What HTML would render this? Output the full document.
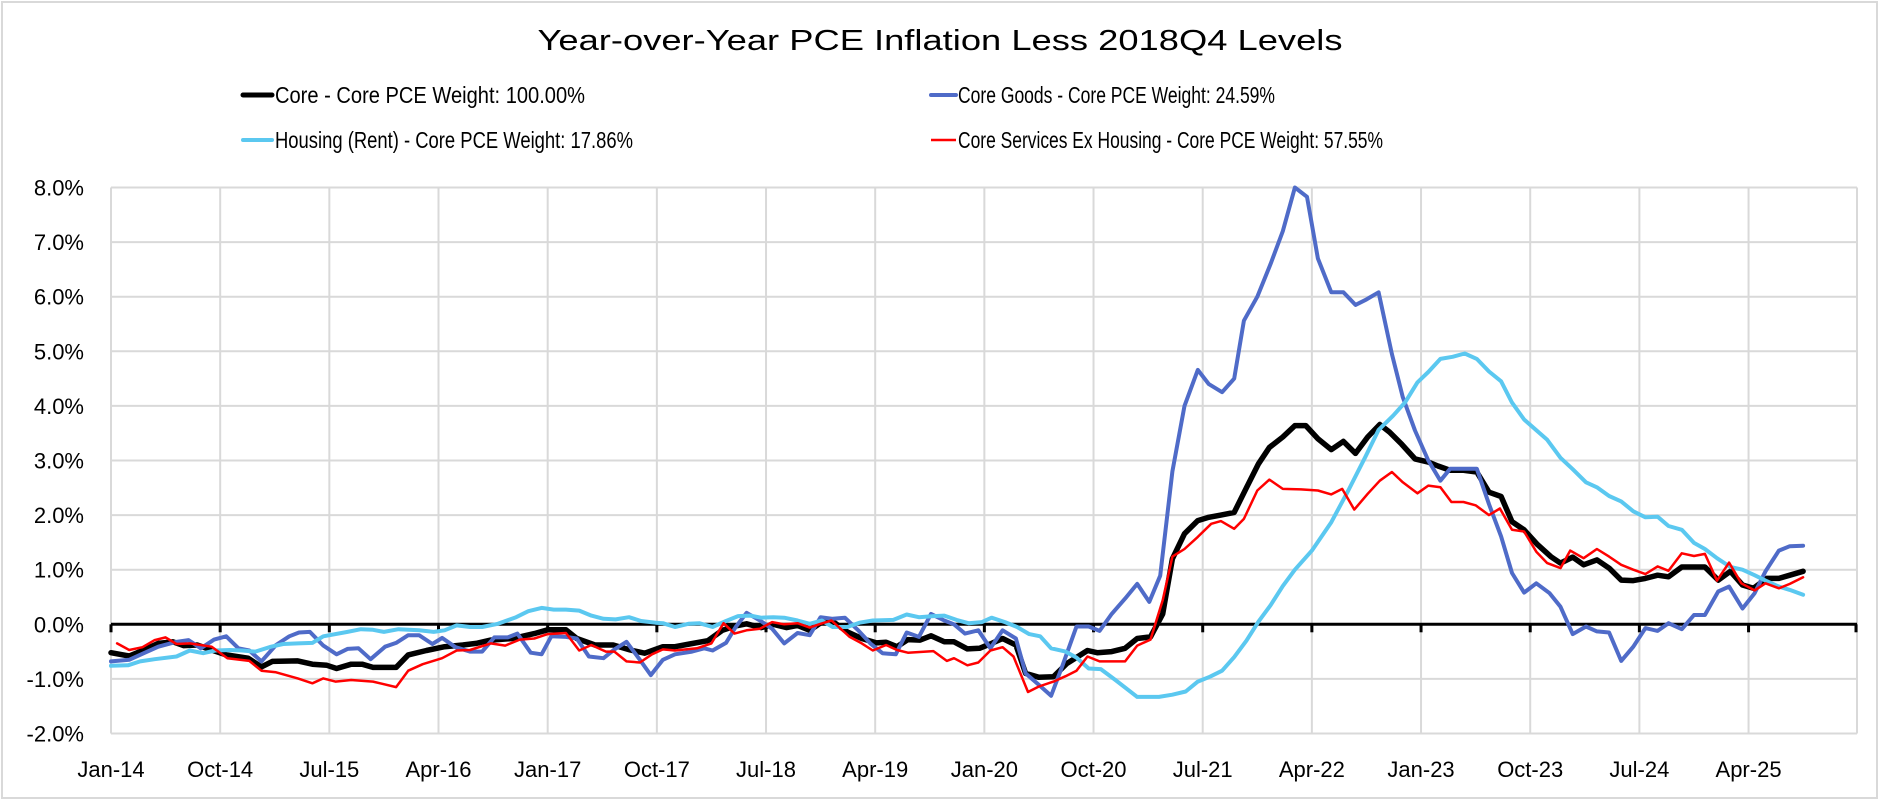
<!DOCTYPE html>
<html><head><meta charset="utf-8"><style>
html,body{margin:0;padding:0;background:#fff;}
svg{display:block;font-family:"Liberation Sans",sans-serif;}
</style></head><body>
<svg id="c" width="1880" height="800" xmlns="http://www.w3.org/2000/svg">
<rect x="2" y="2" width="1875" height="796" fill="#fff" stroke="#d9d9d9" stroke-width="2"/>
<text x="940" y="50" text-anchor="middle" font-size="29" fill="#000" textLength="805" lengthAdjust="spacingAndGlyphs">Year-over-Year PCE Inflation Less 2018Q4 Levels</text>
<line x1="243" y1="95" x2="272" y2="95" stroke="#000" stroke-width="5" stroke-linecap="round"/>
<text x="275" y="103" font-size="23" textLength="310" lengthAdjust="spacingAndGlyphs">Core - Core PCE Weight: 100.00%</text>
<line x1="243" y1="140" x2="272" y2="140" stroke="#5B9BD5" stroke-width="4" stroke-linecap="round" id="lg3"/>
<text x="275" y="148" font-size="23" textLength="358" lengthAdjust="spacingAndGlyphs">Housing (Rent) - Core PCE Weight: 17.86%</text>
<line x1="931" y1="95" x2="956" y2="95" stroke="#4F6BC8" stroke-width="4" stroke-linecap="round"/>
<text x="958" y="103" font-size="23" textLength="317" lengthAdjust="spacingAndGlyphs">Core Goods - Core PCE Weight: 24.59%</text>
<line x1="931" y1="140" x2="956" y2="140" stroke="#FF0000" stroke-width="2.5"/>
<text x="958" y="148" font-size="23" textLength="425" lengthAdjust="spacingAndGlyphs">Core Services Ex Housing - Core PCE Weight: 57.55%</text>
<g id="grid"></g>
<g id="series"></g>
<g id="labels" font-size="22" fill="#000"></g>
</svg>
<script>
var NS="http://www.w3.org/2000/svg";
function X(m){return 111+m*12.13;}
function Y(v){return 624.3-v*54.6;}
function el(tag,attrs,parent,txt){var e=document.createElementNS(NS,tag);for(var k in attrs)e.setAttribute(k,attrs[k]);if(txt)e.textContent=txt;parent.appendChild(e);return e;}
document.getElementById("lg3").setAttribute("stroke","#5BC8F0");
var g=document.getElementById("grid"),L=document.getElementById("labels");
for(var v=-2;v<=8;v++){el("line",{x1:111,x2:1857,y1:Y(v),y2:Y(v),stroke:"#d9d9d9","stroke-width":2},g);
 el("text",{x:84,y:Y(v)+8,"text-anchor":"end"},L,v.toFixed(1)+"%");}
var labs=["Jan-14","Oct-14","Jul-15","Apr-16","Jan-17","Oct-17","Jul-18","Apr-19","Jan-20","Oct-20","Jul-21","Apr-22","Jan-23","Oct-23","Jul-24","Apr-25"];
for(var i=0;i<=16;i++){var x=111+i*9*12.13; if(i==16)x=1857;
 el("line",{x1:x,x2:x,y1:Y(8),y2:Y(-2),stroke:"#d9d9d9","stroke-width":2},g);
 if(i<16)el("text",{x:x,y:777,"text-anchor":"middle"},L,labs[i]);}
el("line",{x1:111,x2:1857,y1:Y(0),y2:Y(0),stroke:"#000","stroke-width":3},g);
for(var i=0;i<=16;i++){var x=111+i*9*12.13;if(i==16)x=1856;el("line",{x1:x,x2:x,y1:Y(0),y2:Y(0)+8,stroke:"#000","stroke-width":3},g);}
var black=[[0,-.52],[1.5,-.58],[2.7,-.47],[3.9,-.35],[5.1,-.32],[6,-.39],[7.1,-.38],[8.3,-.47],[9.5,-.56],[11.3,-.62],[12.4,-.78],[13.3,-.68],[15.4,-.67],[16.6,-.73],[17.8,-.75],[18.6,-.81],[19.8,-.73],[20.7,-.73],[21.6,-.79],[23.5,-.79],[24.5,-.56],[26,-.48],[27.5,-.41],[29,-.38],[30.1,-.35],[31.3,-.29],[33.1,-.26],[34.9,-.17],[36,-.1],[37.5,-.1],[38.4,-.26],[39.9,-.38],[41.4,-.38],[42.8,-.47],[44,-.53],[45.5,-.41],[46.5,-.41],[47.7,-.36],[49.2,-.3],[50.4,-.11],[51.5,-.03],[52.4,.01],[53.6,-.06],[54.6,0],[55.7,-.06],[56.6,-.02],[57.6,-.11],[58.6,.04],[59.7,.02],[60.7,-.14],[61.9,-.26],[63.1,-.34],[63.9,-.33],[64.8,-.41],[65.7,-.28],[66.7,-.29],[67.6,-.21],[68.7,-.32],[69.5,-.32],[70.6,-.45],[71.6,-.44],[72.6,-.35],[73.5,-.26],[74.6,-.38],[75.4,-.9],[76.5,-.97],[77.7,-.96],[78.8,-.72],[80.5,-.48],[81.3,-.52],[82.5,-.5],[83.6,-.44],[84.6,-.26],[85.7,-.23],[86.7,.19],[87.5,1.2],[88.5,1.66],[89.6,1.9],[90.5,1.96],[91.5,2],[92.6,2.05],[93.6,2.5],[94.6,2.94],[95.5,3.24],[96.6,3.43],[97.6,3.64],[98.5,3.64],[99.5,3.4],[100.6,3.2],[101.6,3.35],[102.6,3.13],[103.6,3.43],[104.6,3.66],[105.4,3.52],[106.4,3.3],[107.5,3.03],[108.6,2.97],[109.4,2.9],[110.4,2.82],[111.5,2.82],[112.6,2.79],[113.6,2.42],[114.6,2.34],[115.5,1.88],[116.5,1.73],[117.6,1.46],[118.7,1.24],[119.5,1.12],[120.5,1.23],[121.4,1.09],[122.5,1.18],[123.5,1.03],[124.5,.81],[125.5,.8],[126.5,.84],[127.5,.9],[128.4,.87],[129.5,1.05],[130.5,1.05],[131.4,1.05],[132.5,.81],[133.5,.97],[134.5,.72],[135.4,.66],[136.5,.84],[137.5,.84],[138.4,.9],[139.5,.97]];
var red=[[0.5,-.35],[1.5,-.47],[2.6,-.42],[3.6,-.29],[4.5,-.24],[5.4,-.36],[6.5,-.35],[8.3,-.41],[9.6,-.62],[11.4,-.67],[12.4,-.85],[13.6,-.88],[15.4,-.99],[16.6,-1.08],[17.5,-.99],[18.5,-1.05],[19.8,-1.02],[21.6,-1.05],[23.5,-1.15],[24.5,-.85],[25.7,-.73],[27.3,-.62],[28.5,-.48],[29.6,-.47],[31.3,-.35],[32.5,-.39],[33.7,-.28],[34.9,-.26],[36,-.18],[37.5,-.16],[38.6,-.48],[39.6,-.38],[40.8,-.5],[41.5,-.5],[42.5,-.68],[43.6,-.7],[44.6,-.55],[45.5,-.46],[46.5,-.48],[48.3,-.44],[49.5,-.35],[50.5,.02],[51.4,-.17],[52.4,-.11],[53.5,-.08],[54.5,.04],[55.5,0],[56.6,.02],[57.6,-.06],[58.5,.01],[59.4,.07],[60.9,-.23],[61.9,-.35],[62.8,-.48],[63.9,-.38],[64.8,-.47],[65.7,-.52],[67.8,-.49],[68.9,-.67],[69.5,-.62],[70.6,-.75],[71.5,-.7],[72.5,-.48],[73.5,-.42],[74.4,-.59],[75.6,-1.24],[76.5,-1.14],[77.7,-1.05],[78.7,-.95],[79.6,-.85],[80.5,-.59],[81.5,-.68],[83.6,-.68],[84.6,-.39],[85.7,-.28],[86.7,.44],[87.5,1.24],[88.5,1.38],[89.6,1.6],[90.7,1.84],[91.5,1.89],[92.6,1.75],[93.4,1.93],[94.5,2.45],[95.5,2.65],[96.6,2.48],[98.1,2.47],[99.5,2.45],[100.6,2.38],[101.5,2.48],[102.5,2.1],[103.6,2.39],[104.6,2.63],[105.6,2.79],[106.5,2.6],[107.7,2.4],[108.6,2.54],[109.6,2.51],[110.5,2.24],[111.5,2.24],[112.5,2.18],[113.6,2],[114.5,2.12],[115.5,1.73],[116.5,1.7],[117.5,1.33],[118.4,1.12],[119.5,1.03],[120.3,1.35],[121.4,1.21],[122.5,1.38],[123.5,1.24],[124.5,1.09],[125.5,1],[126.5,.92],[127.5,1.06],[128.4,.98],[129.5,1.3],[130.5,1.25],[131.4,1.29],[132.4,.8],[133.4,1.13],[134.4,.75],[135.5,.62],[136.4,.75],[137.5,.66],[138.4,.74],[139.5,.86]];
var blue=[[0,-.68],[1.5,-.65],[2.7,-.53],[3.9,-.41],[5.4,-.32],[6.4,-.29],[7.4,-.44],[8.5,-.28],[9.5,-.22],[10.5,-.44],[11.4,-.48],[12.4,-.68],[13.6,-.38],[14.7,-.22],[15.5,-.15],[16.4,-.14],[17.5,-.39],[18.6,-.55],[19.5,-.45],[20.4,-.44],[21.4,-.64],[22.6,-.41],[23.5,-.34],[24.5,-.2],[25.4,-.2],[26.5,-.36],[27.3,-.25],[28.4,-.42],[29.6,-.5],[30.6,-.5],[31.6,-.24],[32.7,-.24],[33.5,-.17],[34.6,-.52],[35.5,-.55],[36.3,-.22],[37.5,-.23],[38.4,-.26],[39.4,-.59],[40.6,-.62],[41.5,-.46],[42.5,-.32],[43.6,-.65],[44.5,-.93],[45.5,-.65],[46.5,-.55],[47.9,-.5],[48.9,-.44],[49.6,-.48],[50.7,-.34],[51.5,-.05],[52.4,.21],[53.5,.07],[54.5,-.08],[55.5,-.35],[56.6,-.16],[57.6,-.2],[58.5,.13],[59.5,.1],[60.5,.12],[61.6,-.11],[62.6,-.35],[63.6,-.53],[64.7,-.55],[65.6,-.15],[66.6,-.23],[67.6,.19],[68.7,.07],[69.5,0],[70.4,-.17],[71.5,-.11],[72.5,-.44],[73.5,-.11],[74.6,-.26],[75.4,-.9],[76.5,-1.11],[77.5,-1.31],[78.4,-.78],[79.6,-.04],[80.6,-.04],[81.5,-.12],[82.5,.19],[83.6,.47],[84.6,.74],[85.6,.41],[86.5,.89],[87.5,2.8],[88.5,4],[89.6,4.66],[90.5,4.4],[91.6,4.25],[92.6,4.5],[93.4,5.56],[94.5,6],[95.6,6.6],[96.6,7.2],[97.6,8],[98.6,7.83],[99.5,6.7],[100.6,6.08],[101.6,6.08],[102.6,5.85],[103.5,5.95],[104.5,6.08],[105.6,4.95],[106.5,4.16],[107.5,3.55],[108.6,3],[109.6,2.63],[110.4,2.85],[111.5,2.85],[112.6,2.85],[113.6,2.2],[114.6,1.61],[115.5,.94],[116.5,.58],[117.5,.75],[118.6,.57],[119.5,.32],[120.5,-.18],[121.6,-.04],[122.5,-.13],[123.5,-.15],[124.5,-.67],[125.5,-.41],[126.5,-.07],[127.5,-.12],[128.4,.02],[129.5,-.09],[130.5,.17],[131.4,.17],[132.5,.6],[133.4,.69],[134.5,.29],[135.5,.57],[136.4,.97],[137.5,1.35],[138.4,1.43],[139.5,1.44]];
var lb=[[0,-.76],[1.4,-.75],[2.4,-.68],[3.6,-.64],[5.4,-.59],[6.5,-.48],[7.6,-.53],[8.6,-.48],[9.8,-.47],[10.8,-.48],[11.9,-.5],[13.2,-.41],[14.2,-.36],[15.4,-.35],[16.6,-.34],[17.5,-.22],[19.5,-.14],[20.6,-.09],[21.6,-.1],[22.5,-.14],[23.7,-.09],[25.4,-.11],[26.6,-.14],[27.5,-.11],[28.5,-.02],[29.6,-.05],[30.6,-.05],[31.9,.01],[33.4,.13],[34.4,.24],[35.5,.3],[36.5,.27],[37.5,.27],[38.6,.25],[39.6,.16],[40.6,.1],[41.6,.09],[42.7,.13],[43.7,.06],[44.9,.03],[45.5,.02],[46.5,-.05],[47.6,.01],[48.5,.02],[49.6,-.05],[50.7,.06],[51.7,.15],[52.7,.16],[53.6,.12],[54.6,.13],[55.5,.12],[56.6,.07],[57.6,.01],[58.6,.07],[59.5,-.05],[60.7,-.05],[61.7,.03],[62.8,.07],[64.5,.08],[65.6,.18],[66.6,.13],[67.8,.15],[68.7,.16],[69.7,.08],[70.7,.02],[71.8,.04],[72.6,.12],[73.7,.04],[74.7,-.05],[75.7,-.18],[76.6,-.22],[77.5,-.44],[78.7,-.5],[79.6,-.61],[80.6,-.81],[81.6,-.82],[82.8,-1.02],[84.6,-1.33],[86.4,-1.33],[87.5,-1.29],[88.6,-1.23],[89.6,-1.05],[90.6,-.96],[91.6,-.85],[92.6,-.6],[93.6,-.3],[94.6,.05],[95.6,.35],[96.6,.7],[97.6,1],[99,1.35],[100.6,1.87],[102,2.45],[103.4,3.06],[104.5,3.56],[105.7,3.82],[106.7,4.07],[107.7,4.43],[108.6,4.62],[109.6,4.86],[110.6,4.9],[111.6,4.96],[112.6,4.86],[113.6,4.63],[114.6,4.45],[115.5,4.06],[116.5,3.75],[118.4,3.38],[119.5,3.05],[120.5,2.84],[121.6,2.6],[122.5,2.51],[123.5,2.35],[124.5,2.25],[125.5,2.07],[126.5,1.96],[127.5,1.97],[128.4,1.8],[129.5,1.73],[130.5,1.49],[131.4,1.38],[132.4,1.21],[133.5,1.05],[134.5,1],[135.5,.9],[136.4,.8],[137.5,.69],[138.4,.63],[139.5,.54]];
var S=document.getElementById("series");
function draw(d,c,w){el("polyline",{points:d.map(function(p){return X(p[0]).toFixed(1)+","+Y(p[1]).toFixed(1);}).join(" "),fill:"none",stroke:c,"stroke-width":w,"stroke-linejoin":"round","stroke-linecap":"round"},S);}
draw(black,"#000000",5.5);
draw(blue,"#4F6BC8",4);
draw(lb,"#5BC8F0",4);
draw(red,"#FF0000",2.5);
</script>
</body></html>
